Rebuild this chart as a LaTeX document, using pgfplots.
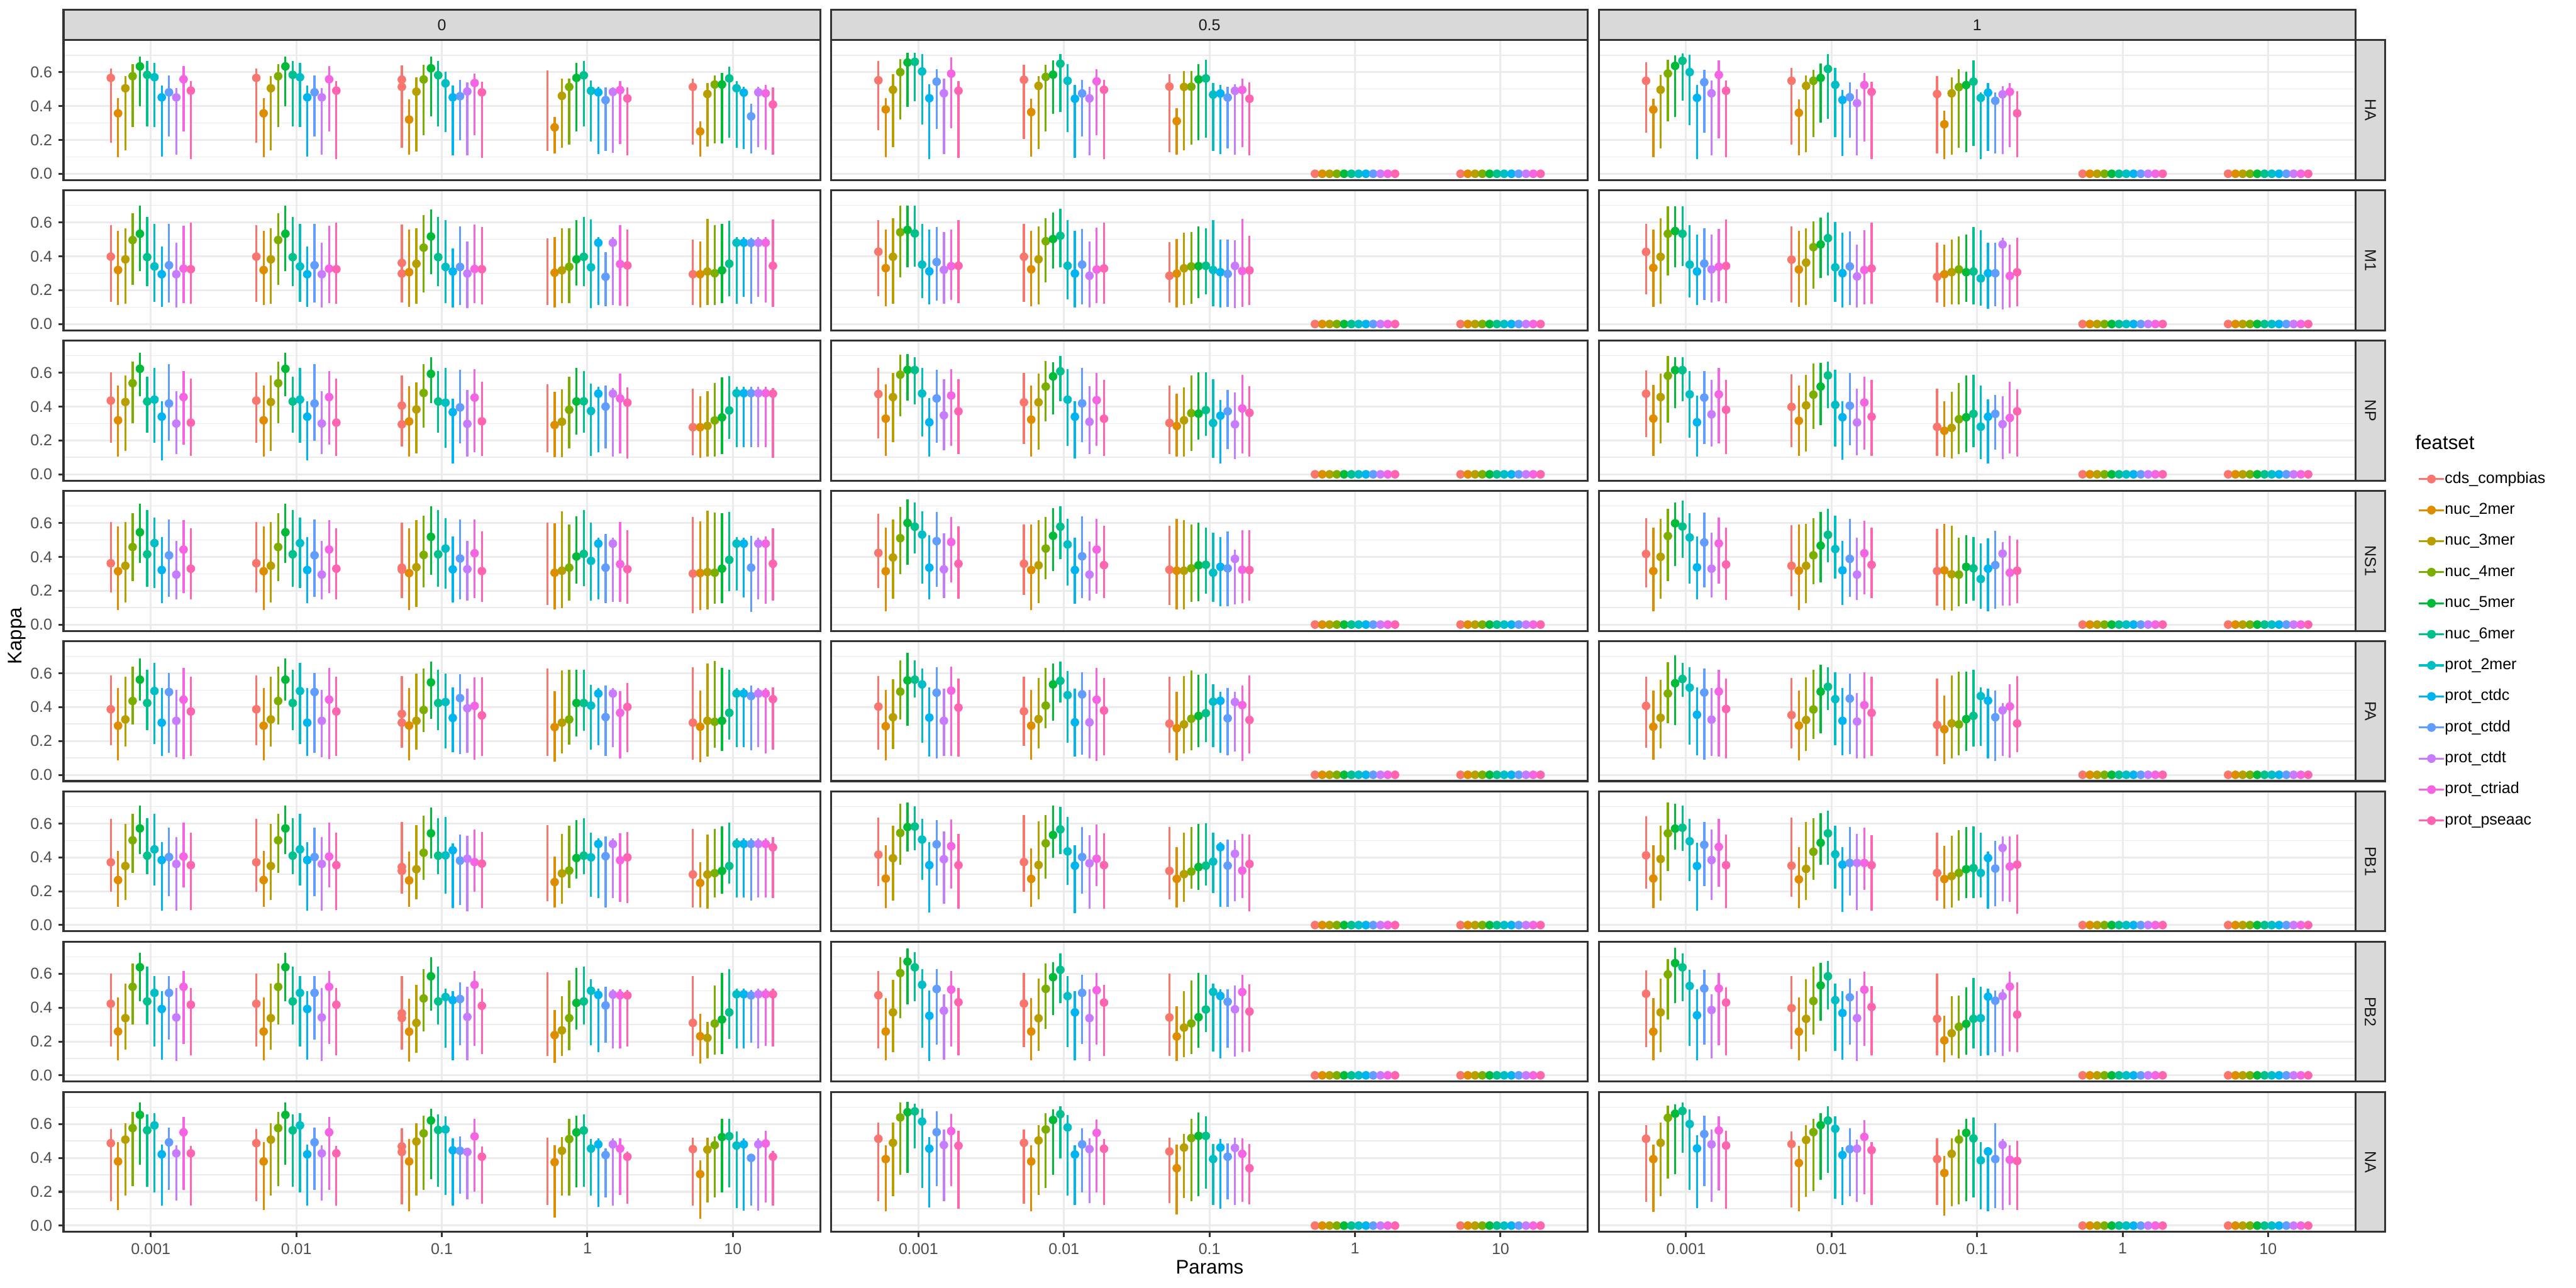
\documentclass[border=0pt]{standalone}
\usepackage{pgfplots}
\usepackage{pgfplotstable}
\pgfplotsset{compat=1.18}
\usepackage{fontspec}
\setmainfont{Liberation Sans}

\definecolor{fs0}{HTML}{F8766D}
\definecolor{fs1}{HTML}{DE8C00}
\definecolor{fs2}{HTML}{B79F00}
\definecolor{fs3}{HTML}{7CAE00}
\definecolor{fs4}{HTML}{00BA38}
\definecolor{fs5}{HTML}{00C08B}
\definecolor{fs6}{HTML}{00BFC4}
\definecolor{fs7}{HTML}{00B4F0}
\definecolor{fs8}{HTML}{619CFF}
\definecolor{fs9}{HTML}{C77CFF}
\definecolor{fs10}{HTML}{F564E3}
\definecolor{fs11}{HTML}{FF64B0}
\definecolor{grey10}{HTML}{1A1A1A}
\definecolor{grey20}{HTML}{333333}
\definecolor{grey30}{HTML}{4D4D4D}
\definecolor{gridgray}{HTML}{EBEBEB}
\definecolor{stripgray}{HTML}{D9D9D9}

% Each line is one point: mean \\ lower \\ upper \\ ; lines are ordered
% group-major (12 featsets per Params group).
\pgfplotstableread[row sep=\\]{v\\
0.566\\ 0.183\\ 0.623\\
0.357\\ 0.099\\ 0.448\\
0.505\\ 0.140\\ 0.575\\
0.576\\ 0.275\\ 0.649\\
0.634\\ 0.398\\ 0.693\\
0.584\\ 0.280\\ 0.667\\
0.570\\ 0.277\\ 0.656\\
0.451\\ 0.102\\ 0.520\\
0.481\\ 0.221\\ 0.580\\
0.451\\ 0.114\\ 0.505\\
0.558\\ 0.250\\ 0.635\\
0.491\\ 0.086\\ 0.547\\
0.566\\ 0.183\\ 0.623\\
0.357\\ 0.099\\ 0.448\\
0.505\\ 0.140\\ 0.575\\
0.576\\ 0.275\\ 0.649\\
0.634\\ 0.398\\ 0.693\\
0.584\\ 0.280\\ 0.667\\
0.570\\ 0.277\\ 0.656\\
0.451\\ 0.102\\ 0.520\\
0.481\\ 0.221\\ 0.580\\
0.451\\ 0.114\\ 0.505\\
0.558\\ 0.250\\ 0.635\\
0.491\\ 0.086\\ 0.547\\
0.556\\ 0.153\\ 0.638\\
0.320\\ 0.112\\ 0.440\\
0.485\\ 0.131\\ 0.571\\
0.557\\ 0.227\\ 0.643\\
0.623\\ 0.339\\ 0.690\\
0.582\\ 0.280\\ 0.666\\
0.534\\ 0.248\\ 0.604\\
0.451\\ 0.107\\ 0.522\\
0.458\\ 0.197\\ 0.553\\
0.486\\ 0.107\\ 0.539\\
0.536\\ 0.226\\ 0.591\\
0.481\\ 0.095\\ 0.542\\
0.513\\ 0.133\\ 0.609\\
0.274\\ 0.120\\ 0.335\\
0.460\\ 0.155\\ 0.560\\
0.513\\ 0.171\\ 0.560\\
0.566\\ 0.249\\ 0.654\\
0.581\\ 0.280\\ 0.666\\
0.490\\ 0.189\\ 0.549\\
0.481\\ 0.115\\ 0.512\\
0.435\\ 0.133\\ 0.509\\
0.483\\ 0.123\\ 0.510\\
0.494\\ 0.174\\ 0.548\\
0.445\\ 0.110\\ 0.510\\
0.513\\ 0.173\\ 0.562\\
0.250\\ 0.101\\ 0.308\\
0.471\\ 0.160\\ 0.537\\
0.527\\ 0.181\\ 0.581\\
0.527\\ 0.179\\ 0.594\\
0.563\\ 0.212\\ 0.633\\
0.505\\ 0.152\\ 0.547\\
0.479\\ 0.147\\ 0.515\\
0.339\\ 0.119\\ 0.412\\
0.481\\ 0.157\\ 0.513\\
0.475\\ 0.143\\ 0.524\\
0.409\\ 0.114\\ 0.510\\
}\tAa
\pgfplotstableread[row sep=\\]{v\\
0.398\\ 0.132\\ 0.584\\
0.319\\ 0.113\\ 0.552\\
0.382\\ 0.121\\ 0.566\\
0.496\\ 0.231\\ 0.656\\
0.533\\ 0.313\\ 0.699\\
0.395\\ 0.224\\ 0.634\\
0.340\\ 0.132\\ 0.590\\
0.294\\ 0.101\\ 0.456\\
0.347\\ 0.126\\ 0.593\\
0.294\\ 0.097\\ 0.480\\
0.327\\ 0.124\\ 0.581\\
0.324\\ 0.120\\ 0.599\\
0.398\\ 0.132\\ 0.584\\
0.319\\ 0.113\\ 0.552\\
0.382\\ 0.121\\ 0.566\\
0.496\\ 0.231\\ 0.656\\
0.533\\ 0.313\\ 0.699\\
0.395\\ 0.224\\ 0.634\\
0.340\\ 0.132\\ 0.590\\
0.294\\ 0.101\\ 0.456\\
0.347\\ 0.126\\ 0.593\\
0.294\\ 0.097\\ 0.480\\
0.327\\ 0.124\\ 0.581\\
0.324\\ 0.120\\ 0.599\\
0.361\\ 0.126\\ 0.586\\
0.306\\ 0.102\\ 0.557\\
0.356\\ 0.119\\ 0.564\\
0.451\\ 0.187\\ 0.644\\
0.517\\ 0.293\\ 0.676\\
0.395\\ 0.224\\ 0.633\\
0.337\\ 0.125\\ 0.614\\
0.310\\ 0.098\\ 0.448\\
0.337\\ 0.113\\ 0.576\\
0.298\\ 0.092\\ 0.488\\
0.325\\ 0.122\\ 0.586\\
0.324\\ 0.116\\ 0.571\\
0.298\\ 0.113\\ 0.507\\
0.303\\ 0.097\\ 0.512\\
0.317\\ 0.124\\ 0.565\\
0.338\\ 0.124\\ 0.565\\
0.382\\ 0.227\\ 0.615\\
0.397\\ 0.224\\ 0.633\\
0.335\\ 0.095\\ 0.618\\
0.480\\ 0.111\\ 0.512\\
0.279\\ 0.103\\ 0.426\\
0.480\\ 0.111\\ 0.512\\
0.354\\ 0.108\\ 0.583\\
0.346\\ 0.105\\ 0.559\\
0.294\\ 0.111\\ 0.499\\
0.294\\ 0.098\\ 0.487\\
0.310\\ 0.113\\ 0.622\\
0.300\\ 0.111\\ 0.584\\
0.317\\ 0.125\\ 0.593\\
0.356\\ 0.164\\ 0.609\\
0.480\\ 0.120\\ 0.515\\
0.480\\ 0.161\\ 0.515\\
0.479\\ 0.121\\ 0.511\\
0.480\\ 0.161\\ 0.515\\
0.480\\ 0.126\\ 0.515\\
0.344\\ 0.101\\ 0.619\\
}\tBa
\pgfplotstableread[row sep=\\]{v\\
0.435\\ 0.187\\ 0.601\\
0.319\\ 0.103\\ 0.523\\
0.427\\ 0.138\\ 0.582\\
0.538\\ 0.301\\ 0.665\\
0.623\\ 0.462\\ 0.716\\
0.430\\ 0.244\\ 0.575\\
0.441\\ 0.188\\ 0.629\\
0.340\\ 0.083\\ 0.430\\
0.418\\ 0.196\\ 0.650\\
0.300\\ 0.120\\ 0.491\\
0.456\\ 0.176\\ 0.610\\
0.305\\ 0.110\\ 0.564\\
0.435\\ 0.187\\ 0.601\\
0.319\\ 0.103\\ 0.523\\
0.427\\ 0.138\\ 0.582\\
0.538\\ 0.301\\ 0.665\\
0.623\\ 0.462\\ 0.716\\
0.430\\ 0.244\\ 0.575\\
0.441\\ 0.188\\ 0.629\\
0.340\\ 0.083\\ 0.430\\
0.418\\ 0.196\\ 0.650\\
0.300\\ 0.120\\ 0.491\\
0.456\\ 0.176\\ 0.610\\
0.305\\ 0.110\\ 0.564\\
0.406\\ 0.165\\ 0.585\\
0.312\\ 0.105\\ 0.521\\
0.383\\ 0.123\\ 0.543\\
0.480\\ 0.277\\ 0.649\\
0.593\\ 0.421\\ 0.690\\
0.430\\ 0.244\\ 0.608\\
0.423\\ 0.155\\ 0.628\\
0.367\\ 0.065\\ 0.446\\
0.395\\ 0.182\\ 0.616\\
0.298\\ 0.106\\ 0.500\\
0.453\\ 0.132\\ 0.619\\
0.313\\ 0.109\\ 0.547\\
0.295\\ 0.130\\ 0.530\\
0.291\\ 0.100\\ 0.487\\
0.310\\ 0.100\\ 0.501\\
0.381\\ 0.154\\ 0.578\\
0.430\\ 0.235\\ 0.628\\
0.431\\ 0.245\\ 0.608\\
0.374\\ 0.110\\ 0.535\\
0.476\\ 0.132\\ 0.515\\
0.400\\ 0.153\\ 0.526\\
0.476\\ 0.104\\ 0.509\\
0.448\\ 0.124\\ 0.593\\
0.423\\ 0.092\\ 0.514\\
0.278\\ 0.112\\ 0.505\\
0.278\\ 0.097\\ 0.460\\
0.286\\ 0.103\\ 0.491\\
0.318\\ 0.105\\ 0.540\\
0.336\\ 0.120\\ 0.574\\
0.377\\ 0.209\\ 0.580\\
0.479\\ 0.160\\ 0.515\\
0.479\\ 0.160\\ 0.515\\
0.479\\ 0.162\\ 0.515\\
0.479\\ 0.160\\ 0.515\\
0.479\\ 0.160\\ 0.515\\
0.476\\ 0.098\\ 0.508\\
}\tCa
\pgfplotstableread[row sep=\\]{v\\
0.362\\ 0.190\\ 0.607\\
0.315\\ 0.085\\ 0.578\\
0.347\\ 0.132\\ 0.607\\
0.458\\ 0.256\\ 0.658\\
0.545\\ 0.365\\ 0.712\\
0.415\\ 0.225\\ 0.675\\
0.481\\ 0.216\\ 0.633\\
0.322\\ 0.128\\ 0.518\\
0.409\\ 0.163\\ 0.619\\
0.295\\ 0.149\\ 0.495\\
0.443\\ 0.186\\ 0.616\\
0.330\\ 0.149\\ 0.569\\
0.362\\ 0.190\\ 0.607\\
0.315\\ 0.085\\ 0.578\\
0.347\\ 0.132\\ 0.607\\
0.458\\ 0.256\\ 0.658\\
0.545\\ 0.365\\ 0.712\\
0.415\\ 0.225\\ 0.675\\
0.481\\ 0.216\\ 0.633\\
0.322\\ 0.128\\ 0.518\\
0.409\\ 0.163\\ 0.619\\
0.295\\ 0.149\\ 0.495\\
0.443\\ 0.186\\ 0.616\\
0.330\\ 0.149\\ 0.569\\
0.336\\ 0.155\\ 0.602\\
0.304\\ 0.085\\ 0.569\\
0.339\\ 0.103\\ 0.615\\
0.411\\ 0.218\\ 0.644\\
0.518\\ 0.292\\ 0.698\\
0.415\\ 0.225\\ 0.675\\
0.449\\ 0.213\\ 0.628\\
0.326\\ 0.132\\ 0.520\\
0.390\\ 0.149\\ 0.621\\
0.327\\ 0.140\\ 0.493\\
0.421\\ 0.158\\ 0.619\\
0.316\\ 0.135\\ 0.551\\
0.324\\ 0.114\\ 0.602\\
0.306\\ 0.091\\ 0.598\\
0.318\\ 0.097\\ 0.668\\
0.336\\ 0.143\\ 0.592\\
0.402\\ 0.240\\ 0.638\\
0.417\\ 0.227\\ 0.675\\
0.376\\ 0.143\\ 0.602\\
0.478\\ 0.148\\ 0.513\\
0.336\\ 0.128\\ 0.534\\
0.478\\ 0.135\\ 0.513\\
0.357\\ 0.135\\ 0.605\\
0.327\\ 0.123\\ 0.559\\
0.301\\ 0.068\\ 0.636\\
0.304\\ 0.085\\ 0.609\\
0.310\\ 0.091\\ 0.673\\
0.306\\ 0.123\\ 0.662\\
0.330\\ 0.126\\ 0.656\\
0.382\\ 0.196\\ 0.665\\
0.478\\ 0.202\\ 0.518\\
0.478\\ 0.161\\ 0.513\\
0.336\\ 0.073\\ 0.524\\
0.478\\ 0.149\\ 0.513\\
0.478\\ 0.123\\ 0.522\\
0.359\\ 0.140\\ 0.569\\
}\tDa
\pgfplotstableread[row sep=\\]{v\\
0.387\\ 0.175\\ 0.587\\
0.290\\ 0.086\\ 0.514\\
0.327\\ 0.168\\ 0.578\\
0.436\\ 0.296\\ 0.638\\
0.562\\ 0.439\\ 0.689\\
0.424\\ 0.263\\ 0.622\\
0.495\\ 0.183\\ 0.662\\
0.308\\ 0.112\\ 0.513\\
0.489\\ 0.129\\ 0.601\\
0.319\\ 0.104\\ 0.501\\
0.444\\ 0.094\\ 0.631\\
0.374\\ 0.112\\ 0.580\\
0.387\\ 0.175\\ 0.587\\
0.290\\ 0.086\\ 0.514\\
0.327\\ 0.168\\ 0.578\\
0.436\\ 0.296\\ 0.638\\
0.562\\ 0.439\\ 0.689\\
0.424\\ 0.263\\ 0.622\\
0.495\\ 0.183\\ 0.662\\
0.308\\ 0.112\\ 0.513\\
0.489\\ 0.129\\ 0.601\\
0.319\\ 0.104\\ 0.501\\
0.444\\ 0.094\\ 0.631\\
0.374\\ 0.112\\ 0.580\\
0.360\\ 0.161\\ 0.584\\
0.291\\ 0.086\\ 0.514\\
0.319\\ 0.150\\ 0.599\\
0.383\\ 0.252\\ 0.626\\
0.546\\ 0.329\\ 0.670\\
0.424\\ 0.263\\ 0.622\\
0.430\\ 0.155\\ 0.598\\
0.336\\ 0.133\\ 0.515\\
0.453\\ 0.124\\ 0.594\\
0.393\\ 0.129\\ 0.508\\
0.407\\ 0.090\\ 0.574\\
0.351\\ 0.112\\ 0.576\\
0.308\\ 0.112\\ 0.626\\
0.282\\ 0.078\\ 0.494\\
0.308\\ 0.127\\ 0.616\\
0.327\\ 0.179\\ 0.620\\
0.424\\ 0.228\\ 0.620\\
0.424\\ 0.261\\ 0.622\\
0.409\\ 0.150\\ 0.532\\
0.480\\ 0.174\\ 0.514\\
0.341\\ 0.112\\ 0.527\\
0.480\\ 0.162\\ 0.514\\
0.366\\ 0.098\\ 0.494\\
0.401\\ 0.133\\ 0.543\\
0.308\\ 0.089\\ 0.637\\
0.284\\ 0.073\\ 0.497\\
0.319\\ 0.106\\ 0.657\\
0.313\\ 0.161\\ 0.671\\
0.319\\ 0.143\\ 0.631\\
0.366\\ 0.209\\ 0.619\\
0.480\\ 0.162\\ 0.514\\
0.480\\ 0.162\\ 0.514\\
0.465\\ 0.144\\ 0.527\\
0.480\\ 0.162\\ 0.514\\
0.480\\ 0.128\\ 0.514\\
0.447\\ 0.150\\ 0.517\\
}\tEa
\pgfplotstableread[row sep=\\]{v\\
0.371\\ 0.198\\ 0.629\\
0.266\\ 0.109\\ 0.439\\
0.349\\ 0.149\\ 0.599\\
0.501\\ 0.308\\ 0.658\\
0.571\\ 0.418\\ 0.707\\
0.410\\ 0.299\\ 0.630\\
0.447\\ 0.233\\ 0.657\\
0.384\\ 0.086\\ 0.491\\
0.402\\ 0.170\\ 0.574\\
0.361\\ 0.086\\ 0.521\\
0.405\\ 0.224\\ 0.607\\
0.354\\ 0.089\\ 0.546\\
0.371\\ 0.198\\ 0.629\\
0.266\\ 0.109\\ 0.439\\
0.349\\ 0.149\\ 0.599\\
0.501\\ 0.308\\ 0.658\\
0.571\\ 0.418\\ 0.707\\
0.410\\ 0.299\\ 0.630\\
0.447\\ 0.233\\ 0.657\\
0.384\\ 0.086\\ 0.491\\
0.402\\ 0.170\\ 0.574\\
0.361\\ 0.086\\ 0.521\\
0.405\\ 0.224\\ 0.607\\
0.354\\ 0.089\\ 0.546\\
0.343\\ 0.186\\ 0.610\\
0.264\\ 0.109\\ 0.435\\
0.330\\ 0.153\\ 0.591\\
0.427\\ 0.268\\ 0.645\\
0.542\\ 0.392\\ 0.693\\
0.410\\ 0.299\\ 0.630\\
0.412\\ 0.184\\ 0.637\\
0.442\\ 0.100\\ 0.483\\
0.381\\ 0.120\\ 0.535\\
0.392\\ 0.081\\ 0.529\\
0.372\\ 0.197\\ 0.564\\
0.363\\ 0.100\\ 0.550\\
0.320\\ 0.140\\ 0.592\\
0.254\\ 0.105\\ 0.404\\
0.305\\ 0.126\\ 0.539\\
0.322\\ 0.219\\ 0.585\\
0.396\\ 0.273\\ 0.620\\
0.410\\ 0.299\\ 0.630\\
0.400\\ 0.167\\ 0.547\\
0.479\\ 0.161\\ 0.511\\
0.407\\ 0.105\\ 0.524\\
0.479\\ 0.158\\ 0.511\\
0.383\\ 0.138\\ 0.542\\
0.400\\ 0.131\\ 0.549\\
0.299\\ 0.104\\ 0.567\\
0.249\\ 0.104\\ 0.372\\
0.299\\ 0.098\\ 0.536\\
0.307\\ 0.163\\ 0.567\\
0.320\\ 0.186\\ 0.582\\
0.349\\ 0.246\\ 0.607\\
0.479\\ 0.162\\ 0.514\\
0.479\\ 0.162\\ 0.514\\
0.479\\ 0.144\\ 0.514\\
0.479\\ 0.162\\ 0.514\\
0.479\\ 0.162\\ 0.514\\
0.459\\ 0.159\\ 0.521\\
}\tFa
\pgfplotstableread[row sep=\\]{v\\
0.423\\ 0.172\\ 0.600\\
0.259\\ 0.087\\ 0.459\\
0.338\\ 0.151\\ 0.541\\
0.523\\ 0.299\\ 0.662\\
0.639\\ 0.439\\ 0.723\\
0.437\\ 0.300\\ 0.641\\
0.487\\ 0.172\\ 0.586\\
0.392\\ 0.093\\ 0.499\\
0.487\\ 0.211\\ 0.586\\
0.342\\ 0.085\\ 0.517\\
0.523\\ 0.185\\ 0.615\\
0.417\\ 0.117\\ 0.517\\
0.423\\ 0.172\\ 0.600\\
0.259\\ 0.087\\ 0.459\\
0.338\\ 0.151\\ 0.541\\
0.523\\ 0.299\\ 0.662\\
0.639\\ 0.439\\ 0.723\\
0.437\\ 0.300\\ 0.641\\
0.487\\ 0.172\\ 0.586\\
0.392\\ 0.093\\ 0.499\\
0.487\\ 0.211\\ 0.586\\
0.342\\ 0.085\\ 0.517\\
0.523\\ 0.185\\ 0.615\\
0.417\\ 0.117\\ 0.517\\
0.366\\ 0.151\\ 0.586\\
0.258\\ 0.080\\ 0.451\\
0.310\\ 0.134\\ 0.534\\
0.454\\ 0.258\\ 0.628\\
0.585\\ 0.382\\ 0.697\\
0.437\\ 0.300\\ 0.641\\
0.463\\ 0.163\\ 0.513\\
0.444\\ 0.089\\ 0.496\\
0.451\\ 0.177\\ 0.551\\
0.345\\ 0.089\\ 0.523\\
0.535\\ 0.173\\ 0.615\\
0.411\\ 0.127\\ 0.513\\
0.339\\ 0.113\\ 0.607\\
0.238\\ 0.075\\ 0.387\\
0.266\\ 0.113\\ 0.466\\
0.338\\ 0.148\\ 0.562\\
0.428\\ 0.270\\ 0.635\\
0.437\\ 0.300\\ 0.641\\
0.500\\ 0.177\\ 0.568\\
0.475\\ 0.137\\ 0.511\\
0.413\\ 0.193\\ 0.523\\
0.477\\ 0.158\\ 0.510\\
0.473\\ 0.158\\ 0.510\\
0.472\\ 0.170\\ 0.506\\
0.310\\ 0.113\\ 0.585\\
0.231\\ 0.069\\ 0.362\\
0.221\\ 0.099\\ 0.317\\
0.306\\ 0.123\\ 0.530\\
0.330\\ 0.127\\ 0.604\\
0.372\\ 0.215\\ 0.627\\
0.479\\ 0.161\\ 0.513\\
0.479\\ 0.161\\ 0.513\\
0.472\\ 0.193\\ 0.506\\
0.479\\ 0.161\\ 0.513\\
0.479\\ 0.175\\ 0.513\\
0.479\\ 0.172\\ 0.513\\
}\tGa
\pgfplotstableread[row sep=\\]{v\\
0.487\\ 0.146\\ 0.570\\
0.379\\ 0.092\\ 0.492\\
0.508\\ 0.176\\ 0.604\\
0.576\\ 0.235\\ 0.672\\
0.654\\ 0.358\\ 0.727\\
0.563\\ 0.231\\ 0.656\\
0.592\\ 0.196\\ 0.666\\
0.421\\ 0.117\\ 0.479\\
0.492\\ 0.210\\ 0.580\\
0.427\\ 0.149\\ 0.473\\
0.551\\ 0.210\\ 0.642\\
0.427\\ 0.120\\ 0.472\\
0.487\\ 0.146\\ 0.570\\
0.379\\ 0.092\\ 0.492\\
0.508\\ 0.176\\ 0.604\\
0.576\\ 0.235\\ 0.672\\
0.654\\ 0.358\\ 0.727\\
0.563\\ 0.231\\ 0.656\\
0.592\\ 0.196\\ 0.666\\
0.421\\ 0.117\\ 0.479\\
0.492\\ 0.210\\ 0.580\\
0.427\\ 0.149\\ 0.473\\
0.551\\ 0.210\\ 0.642\\
0.427\\ 0.120\\ 0.472\\
0.468\\ 0.125\\ 0.576\\
0.379\\ 0.083\\ 0.511\\
0.497\\ 0.179\\ 0.606\\
0.545\\ 0.210\\ 0.648\\
0.621\\ 0.276\\ 0.689\\
0.565\\ 0.231\\ 0.656\\
0.568\\ 0.182\\ 0.646\\
0.445\\ 0.117\\ 0.517\\
0.442\\ 0.187\\ 0.525\\
0.435\\ 0.154\\ 0.456\\
0.527\\ 0.199\\ 0.630\\
0.407\\ 0.130\\ 0.468\\
0.435\\ 0.123\\ 0.520\\
0.375\\ 0.048\\ 0.476\\
0.442\\ 0.179\\ 0.523\\
0.511\\ 0.179\\ 0.630\\
0.551\\ 0.227\\ 0.649\\
0.562\\ 0.231\\ 0.656\\
0.455\\ 0.177\\ 0.511\\
0.480\\ 0.111\\ 0.515\\
0.417\\ 0.168\\ 0.456\\
0.480\\ 0.117\\ 0.515\\
0.455\\ 0.182\\ 0.515\\
0.407\\ 0.130\\ 0.438\\
0.452\\ 0.120\\ 0.518\\
0.304\\ 0.042\\ 0.387\\
0.449\\ 0.137\\ 0.520\\
0.475\\ 0.168\\ 0.527\\
0.523\\ 0.196\\ 0.630\\
0.528\\ 0.227\\ 0.630\\
0.473\\ 0.103\\ 0.556\\
0.480\\ 0.090\\ 0.515\\
0.400\\ 0.120\\ 0.421\\
0.480\\ 0.087\\ 0.515\\
0.485\\ 0.135\\ 0.562\\
0.407\\ 0.117\\ 0.442\\
}\tHa
\pgfplotstableread[row sep=\\]{v\\
0.552\\ 0.259\\ 0.667\\
0.380\\ 0.099\\ 0.445\\
0.496\\ 0.157\\ 0.589\\
0.600\\ 0.322\\ 0.678\\
0.657\\ 0.395\\ 0.714\\
0.661\\ 0.428\\ 0.714\\
0.604\\ 0.292\\ 0.705\\
0.446\\ 0.086\\ 0.528\\
0.544\\ 0.264\\ 0.616\\
0.475\\ 0.117\\ 0.561\\
0.591\\ 0.269\\ 0.688\\
0.490\\ 0.095\\ 0.547\\
0.555\\ 0.206\\ 0.642\\
0.364\\ 0.101\\ 0.442\\
0.519\\ 0.147\\ 0.576\\
0.572\\ 0.250\\ 0.645\\
0.585\\ 0.355\\ 0.668\\
0.650\\ 0.365\\ 0.705\\
0.549\\ 0.248\\ 0.648\\
0.443\\ 0.093\\ 0.524\\
0.474\\ 0.222\\ 0.556\\
0.445\\ 0.107\\ 0.512\\
0.546\\ 0.226\\ 0.618\\
0.496\\ 0.086\\ 0.553\\
0.515\\ 0.126\\ 0.589\\
0.311\\ 0.114\\ 0.389\\
0.513\\ 0.140\\ 0.605\\
0.514\\ 0.171\\ 0.606\\
0.557\\ 0.197\\ 0.649\\
0.563\\ 0.211\\ 0.673\\
0.467\\ 0.136\\ 0.534\\
0.474\\ 0.117\\ 0.525\\
0.450\\ 0.148\\ 0.513\\
0.490\\ 0.112\\ 0.529\\
0.495\\ 0.157\\ 0.562\\
0.443\\ 0.107\\ 0.541\\
}\tAb
\pgfplotstableread[row sep=\\]{v\\
0.427\\ 0.166\\ 0.612\\
0.330\\ 0.105\\ 0.559\\
0.397\\ 0.121\\ 0.625\\
0.542\\ 0.275\\ 0.699\\
0.556\\ 0.335\\ 0.699\\
0.535\\ 0.340\\ 0.699\\
0.351\\ 0.154\\ 0.591\\
0.311\\ 0.115\\ 0.559\\
0.366\\ 0.140\\ 0.571\\
0.320\\ 0.121\\ 0.542\\
0.342\\ 0.142\\ 0.559\\
0.344\\ 0.124\\ 0.612\\
0.397\\ 0.130\\ 0.593\\
0.323\\ 0.105\\ 0.550\\
0.382\\ 0.115\\ 0.575\\
0.489\\ 0.246\\ 0.625\\
0.502\\ 0.329\\ 0.657\\
0.521\\ 0.335\\ 0.682\\
0.344\\ 0.145\\ 0.613\\
0.298\\ 0.096\\ 0.550\\
0.351\\ 0.117\\ 0.562\\
0.285\\ 0.098\\ 0.486\\
0.322\\ 0.124\\ 0.569\\
0.328\\ 0.120\\ 0.600\\
0.285\\ 0.127\\ 0.483\\
0.298\\ 0.097\\ 0.502\\
0.329\\ 0.111\\ 0.540\\
0.340\\ 0.121\\ 0.542\\
0.342\\ 0.153\\ 0.575\\
0.344\\ 0.174\\ 0.565\\
0.319\\ 0.106\\ 0.613\\
0.306\\ 0.098\\ 0.499\\
0.296\\ 0.101\\ 0.499\\
0.343\\ 0.095\\ 0.496\\
0.313\\ 0.102\\ 0.622\\
0.317\\ 0.111\\ 0.521\\
}\tBb
\pgfplotstableread[row sep=\\]{v\\
0.474\\ 0.214\\ 0.629\\
0.329\\ 0.110\\ 0.530\\
0.456\\ 0.190\\ 0.599\\
0.588\\ 0.342\\ 0.705\\
0.617\\ 0.435\\ 0.710\\
0.616\\ 0.413\\ 0.692\\
0.477\\ 0.223\\ 0.628\\
0.307\\ 0.106\\ 0.451\\
0.448\\ 0.188\\ 0.616\\
0.348\\ 0.141\\ 0.561\\
0.465\\ 0.167\\ 0.620\\
0.372\\ 0.118\\ 0.561\\
0.425\\ 0.180\\ 0.599\\
0.323\\ 0.106\\ 0.526\\
0.425\\ 0.145\\ 0.595\\
0.518\\ 0.313\\ 0.669\\
0.578\\ 0.355\\ 0.661\\
0.608\\ 0.430\\ 0.698\\
0.441\\ 0.169\\ 0.620\\
0.340\\ 0.092\\ 0.430\\
0.419\\ 0.190\\ 0.628\\
0.310\\ 0.118\\ 0.521\\
0.438\\ 0.167\\ 0.599\\
0.328\\ 0.110\\ 0.559\\
0.303\\ 0.118\\ 0.523\\
0.285\\ 0.104\\ 0.477\\
0.319\\ 0.103\\ 0.512\\
0.361\\ 0.138\\ 0.585\\
0.358\\ 0.203\\ 0.601\\
0.379\\ 0.226\\ 0.602\\
0.303\\ 0.098\\ 0.561\\
0.346\\ 0.062\\ 0.438\\
0.372\\ 0.149\\ 0.500\\
0.295\\ 0.091\\ 0.482\\
0.389\\ 0.124\\ 0.587\\
0.363\\ 0.104\\ 0.519\\
}\tCb
\pgfplotstableread[row sep=\\]{v\\
0.423\\ 0.217\\ 0.654\\
0.315\\ 0.077\\ 0.572\\
0.396\\ 0.151\\ 0.621\\
0.510\\ 0.297\\ 0.694\\
0.600\\ 0.353\\ 0.738\\
0.578\\ 0.419\\ 0.719\\
0.531\\ 0.242\\ 0.668\\
0.336\\ 0.149\\ 0.528\\
0.493\\ 0.225\\ 0.665\\
0.326\\ 0.157\\ 0.539\\
0.487\\ 0.248\\ 0.637\\
0.359\\ 0.151\\ 0.580\\
0.359\\ 0.176\\ 0.592\\
0.322\\ 0.085\\ 0.592\\
0.350\\ 0.128\\ 0.615\\
0.449\\ 0.266\\ 0.636\\
0.524\\ 0.315\\ 0.687\\
0.578\\ 0.388\\ 0.697\\
0.473\\ 0.231\\ 0.624\\
0.322\\ 0.123\\ 0.513\\
0.403\\ 0.157\\ 0.638\\
0.295\\ 0.141\\ 0.491\\
0.443\\ 0.182\\ 0.624\\
0.351\\ 0.155\\ 0.584\\
0.324\\ 0.114\\ 0.583\\
0.318\\ 0.089\\ 0.623\\
0.318\\ 0.089\\ 0.615\\
0.332\\ 0.135\\ 0.592\\
0.350\\ 0.137\\ 0.601\\
0.353\\ 0.182\\ 0.574\\
0.306\\ 0.135\\ 0.543\\
0.341\\ 0.108\\ 0.516\\
0.332\\ 0.108\\ 0.551\\
0.388\\ 0.120\\ 0.444\\
0.324\\ 0.126\\ 0.559\\
0.322\\ 0.141\\ 0.557\\
}\tDb
\pgfplotstableread[row sep=\\]{v\\
0.403\\ 0.150\\ 0.585\\
0.287\\ 0.086\\ 0.502\\
0.340\\ 0.153\\ 0.565\\
0.491\\ 0.327\\ 0.675\\
0.558\\ 0.288\\ 0.720\\
0.562\\ 0.457\\ 0.677\\
0.534\\ 0.191\\ 0.629\\
0.338\\ 0.106\\ 0.517\\
0.485\\ 0.098\\ 0.637\\
0.319\\ 0.110\\ 0.508\\
0.497\\ 0.112\\ 0.640\\
0.397\\ 0.106\\ 0.569\\
0.375\\ 0.171\\ 0.580\\
0.290\\ 0.089\\ 0.500\\
0.329\\ 0.156\\ 0.572\\
0.409\\ 0.276\\ 0.631\\
0.534\\ 0.319\\ 0.657\\
0.555\\ 0.428\\ 0.670\\
0.471\\ 0.188\\ 0.612\\
0.310\\ 0.107\\ 0.509\\
0.475\\ 0.119\\ 0.606\\
0.310\\ 0.098\\ 0.502\\
0.444\\ 0.080\\ 0.630\\
0.380\\ 0.115\\ 0.572\\
0.302\\ 0.130\\ 0.578\\
0.275\\ 0.086\\ 0.491\\
0.298\\ 0.125\\ 0.585\\
0.331\\ 0.146\\ 0.616\\
0.348\\ 0.165\\ 0.590\\
0.364\\ 0.195\\ 0.599\\
0.432\\ 0.164\\ 0.535\\
0.437\\ 0.130\\ 0.492\\
0.334\\ 0.115\\ 0.514\\
0.430\\ 0.136\\ 0.491\\
0.412\\ 0.080\\ 0.529\\
0.324\\ 0.125\\ 0.587\\
}\tEb
\pgfplotstableread[row sep=\\]{v\\
0.416\\ 0.229\\ 0.635\\
0.275\\ 0.100\\ 0.472\\
0.395\\ 0.145\\ 0.587\\
0.544\\ 0.357\\ 0.717\\
0.579\\ 0.435\\ 0.725\\
0.582\\ 0.441\\ 0.702\\
0.505\\ 0.268\\ 0.629\\
0.354\\ 0.075\\ 0.489\\
0.477\\ 0.233\\ 0.620\\
0.389\\ 0.126\\ 0.553\\
0.466\\ 0.217\\ 0.623\\
0.354\\ 0.097\\ 0.540\\
0.372\\ 0.196\\ 0.649\\
0.273\\ 0.106\\ 0.453\\
0.355\\ 0.153\\ 0.614\\
0.483\\ 0.275\\ 0.649\\
0.532\\ 0.398\\ 0.707\\
0.565\\ 0.418\\ 0.698\\
0.435\\ 0.237\\ 0.637\\
0.351\\ 0.071\\ 0.470\\
0.402\\ 0.184\\ 0.579\\
0.365\\ 0.095\\ 0.532\\
0.392\\ 0.231\\ 0.594\\
0.354\\ 0.095\\ 0.543\\
0.320\\ 0.151\\ 0.579\\
0.273\\ 0.103\\ 0.462\\
0.301\\ 0.139\\ 0.544\\
0.316\\ 0.215\\ 0.579\\
0.343\\ 0.209\\ 0.596\\
0.351\\ 0.235\\ 0.602\\
0.375\\ 0.188\\ 0.544\\
0.460\\ 0.109\\ 0.491\\
0.351\\ 0.109\\ 0.505\\
0.421\\ 0.140\\ 0.503\\
0.322\\ 0.159\\ 0.538\\
0.361\\ 0.083\\ 0.536\\
}\tFb
\pgfplotstableread[row sep=\\]{v\\
0.473\\ 0.161\\ 0.615\\
0.259\\ 0.090\\ 0.458\\
0.372\\ 0.137\\ 0.565\\
0.604\\ 0.337\\ 0.697\\
0.672\\ 0.418\\ 0.749\\
0.638\\ 0.437\\ 0.728\\
0.535\\ 0.162\\ 0.627\\
0.352\\ 0.086\\ 0.500\\
0.510\\ 0.183\\ 0.627\\
0.382\\ 0.093\\ 0.480\\
0.507\\ 0.169\\ 0.615\\
0.432\\ 0.120\\ 0.517\\
0.424\\ 0.168\\ 0.604\\
0.259\\ 0.087\\ 0.456\\
0.337\\ 0.145\\ 0.570\\
0.511\\ 0.275\\ 0.661\\
0.580\\ 0.355\\ 0.669\\
0.623\\ 0.425\\ 0.720\\
0.468\\ 0.165\\ 0.586\\
0.372\\ 0.087\\ 0.496\\
0.487\\ 0.186\\ 0.593\\
0.338\\ 0.086\\ 0.507\\
0.503\\ 0.183\\ 0.606\\
0.430\\ 0.115\\ 0.535\\
0.342\\ 0.113\\ 0.600\\
0.230\\ 0.085\\ 0.408\\
0.282\\ 0.107\\ 0.499\\
0.307\\ 0.125\\ 0.562\\
0.344\\ 0.162\\ 0.606\\
0.389\\ 0.255\\ 0.594\\
0.493\\ 0.139\\ 0.541\\
0.469\\ 0.099\\ 0.510\\
0.435\\ 0.163\\ 0.507\\
0.390\\ 0.111\\ 0.531\\
0.492\\ 0.137\\ 0.594\\
0.377\\ 0.139\\ 0.538\\
}\tGb
\pgfplotstableread[row sep=\\]{v\\
0.513\\ 0.145\\ 0.608\\
0.393\\ 0.083\\ 0.475\\
0.489\\ 0.173\\ 0.607\\
0.639\\ 0.301\\ 0.727\\
0.670\\ 0.311\\ 0.731\\
0.675\\ 0.456\\ 0.720\\
0.615\\ 0.224\\ 0.689\\
0.455\\ 0.107\\ 0.523\\
0.552\\ 0.232\\ 0.675\\
0.476\\ 0.146\\ 0.569\\
0.558\\ 0.234\\ 0.661\\
0.472\\ 0.101\\ 0.562\\
0.489\\ 0.128\\ 0.569\\
0.379\\ 0.083\\ 0.473\\
0.503\\ 0.180\\ 0.594\\
0.568\\ 0.221\\ 0.663\\
0.624\\ 0.301\\ 0.686\\
0.658\\ 0.396\\ 0.706\\
0.580\\ 0.177\\ 0.654\\
0.420\\ 0.123\\ 0.475\\
0.480\\ 0.196\\ 0.576\\
0.452\\ 0.132\\ 0.515\\
0.548\\ 0.196\\ 0.628\\
0.454\\ 0.121\\ 0.513\\
0.438\\ 0.132\\ 0.520\\
0.339\\ 0.065\\ 0.477\\
0.461\\ 0.163\\ 0.541\\
0.517\\ 0.146\\ 0.630\\
0.530\\ 0.175\\ 0.668\\
0.530\\ 0.217\\ 0.646\\
0.393\\ 0.123\\ 0.483\\
0.461\\ 0.101\\ 0.511\\
0.407\\ 0.154\\ 0.485\\
0.459\\ 0.123\\ 0.520\\
0.424\\ 0.142\\ 0.517\\
0.339\\ 0.125\\ 0.482\\
}\tHb
\pgfplotstableread[row sep=\\]{v\\
0.549\\ 0.243\\ 0.659\\
0.379\\ 0.097\\ 0.442\\
0.496\\ 0.149\\ 0.585\\
0.592\\ 0.309\\ 0.673\\
0.637\\ 0.337\\ 0.701\\
0.667\\ 0.433\\ 0.711\\
0.600\\ 0.288\\ 0.704\\
0.448\\ 0.088\\ 0.525\\
0.541\\ 0.241\\ 0.613\\
0.475\\ 0.107\\ 0.551\\
0.584\\ 0.208\\ 0.669\\
0.490\\ 0.099\\ 0.552\\
0.549\\ 0.171\\ 0.626\\
0.360\\ 0.107\\ 0.440\\
0.519\\ 0.129\\ 0.581\\
0.549\\ 0.216\\ 0.615\\
0.566\\ 0.303\\ 0.652\\
0.619\\ 0.326\\ 0.705\\
0.525\\ 0.215\\ 0.626\\
0.436\\ 0.106\\ 0.495\\
0.452\\ 0.211\\ 0.538\\
0.417\\ 0.109\\ 0.499\\
0.524\\ 0.189\\ 0.595\\
0.484\\ 0.088\\ 0.543\\
0.471\\ 0.120\\ 0.575\\
0.292\\ 0.085\\ 0.374\\
0.475\\ 0.111\\ 0.570\\
0.512\\ 0.153\\ 0.619\\
0.524\\ 0.128\\ 0.604\\
0.544\\ 0.164\\ 0.671\\
0.448\\ 0.085\\ 0.481\\
0.479\\ 0.133\\ 0.534\\
0.431\\ 0.120\\ 0.480\\
0.469\\ 0.117\\ 0.519\\
0.484\\ 0.158\\ 0.537\\
0.357\\ 0.099\\ 0.486\\
}\tAc
\pgfplotstableread[row sep=\\]{v\\
0.426\\ 0.174\\ 0.593\\
0.332\\ 0.102\\ 0.559\\
0.397\\ 0.120\\ 0.625\\
0.533\\ 0.288\\ 0.694\\
0.549\\ 0.335\\ 0.694\\
0.533\\ 0.344\\ 0.694\\
0.351\\ 0.158\\ 0.584\\
0.310\\ 0.111\\ 0.530\\
0.357\\ 0.142\\ 0.567\\
0.323\\ 0.126\\ 0.530\\
0.338\\ 0.136\\ 0.562\\
0.343\\ 0.124\\ 0.618\\
0.380\\ 0.127\\ 0.578\\
0.322\\ 0.102\\ 0.549\\
0.363\\ 0.111\\ 0.567\\
0.454\\ 0.208\\ 0.605\\
0.470\\ 0.271\\ 0.628\\
0.507\\ 0.288\\ 0.657\\
0.335\\ 0.130\\ 0.603\\
0.300\\ 0.098\\ 0.540\\
0.340\\ 0.111\\ 0.546\\
0.281\\ 0.098\\ 0.467\\
0.319\\ 0.115\\ 0.556\\
0.328\\ 0.121\\ 0.600\\
0.279\\ 0.126\\ 0.480\\
0.294\\ 0.102\\ 0.468\\
0.306\\ 0.117\\ 0.498\\
0.322\\ 0.115\\ 0.517\\
0.306\\ 0.130\\ 0.527\\
0.310\\ 0.115\\ 0.574\\
0.269\\ 0.107\\ 0.556\\
0.300\\ 0.090\\ 0.480\\
0.300\\ 0.105\\ 0.480\\
0.470\\ 0.086\\ 0.508\\
0.284\\ 0.096\\ 0.470\\
0.306\\ 0.105\\ 0.511\\
}\tBc
\pgfplotstableread[row sep=\\]{v\\
0.476\\ 0.221\\ 0.612\\
0.329\\ 0.109\\ 0.529\\
0.456\\ 0.184\\ 0.595\\
0.582\\ 0.305\\ 0.699\\
0.615\\ 0.389\\ 0.693\\
0.615\\ 0.430\\ 0.690\\
0.472\\ 0.215\\ 0.608\\
0.307\\ 0.106\\ 0.465\\
0.453\\ 0.180\\ 0.610\\
0.354\\ 0.165\\ 0.556\\
0.472\\ 0.184\\ 0.630\\
0.381\\ 0.118\\ 0.559\\
0.398\\ 0.159\\ 0.592\\
0.316\\ 0.110\\ 0.523\\
0.407\\ 0.135\\ 0.587\\
0.470\\ 0.267\\ 0.655\\
0.518\\ 0.290\\ 0.657\\
0.584\\ 0.390\\ 0.665\\
0.410\\ 0.163\\ 0.617\\
0.337\\ 0.086\\ 0.433\\
0.405\\ 0.173\\ 0.599\\
0.306\\ 0.112\\ 0.507\\
0.424\\ 0.147\\ 0.575\\
0.340\\ 0.110\\ 0.556\\
0.280\\ 0.110\\ 0.505\\
0.257\\ 0.100\\ 0.430\\
0.274\\ 0.095\\ 0.486\\
0.325\\ 0.118\\ 0.540\\
0.337\\ 0.132\\ 0.585\\
0.357\\ 0.161\\ 0.587\\
0.281\\ 0.091\\ 0.523\\
0.340\\ 0.063\\ 0.441\\
0.357\\ 0.145\\ 0.470\\
0.296\\ 0.088\\ 0.462\\
0.333\\ 0.124\\ 0.545\\
0.372\\ 0.103\\ 0.503\\
}\tCc
\pgfplotstableread[row sep=\\]{v\\
0.417\\ 0.221\\ 0.627\\
0.316\\ 0.077\\ 0.572\\
0.400\\ 0.151\\ 0.623\\
0.523\\ 0.256\\ 0.682\\
0.598\\ 0.344\\ 0.722\\
0.579\\ 0.394\\ 0.733\\
0.514\\ 0.242\\ 0.656\\
0.338\\ 0.149\\ 0.522\\
0.485\\ 0.221\\ 0.662\\
0.330\\ 0.161\\ 0.542\\
0.479\\ 0.242\\ 0.633\\
0.355\\ 0.147\\ 0.574\\
0.347\\ 0.169\\ 0.586\\
0.318\\ 0.087\\ 0.592\\
0.347\\ 0.126\\ 0.595\\
0.409\\ 0.237\\ 0.627\\
0.466\\ 0.248\\ 0.665\\
0.530\\ 0.367\\ 0.682\\
0.446\\ 0.272\\ 0.642\\
0.320\\ 0.117\\ 0.496\\
0.388\\ 0.163\\ 0.623\\
0.295\\ 0.147\\ 0.513\\
0.421\\ 0.178\\ 0.612\\
0.353\\ 0.155\\ 0.572\\
0.316\\ 0.111\\ 0.563\\
0.320\\ 0.085\\ 0.594\\
0.297\\ 0.083\\ 0.584\\
0.295\\ 0.108\\ 0.514\\
0.341\\ 0.122\\ 0.528\\
0.332\\ 0.140\\ 0.518\\
0.269\\ 0.093\\ 0.481\\
0.330\\ 0.079\\ 0.508\\
0.351\\ 0.094\\ 0.555\\
0.419\\ 0.111\\ 0.486\\
0.306\\ 0.111\\ 0.525\\
0.318\\ 0.126\\ 0.501\\
}\tDc
\pgfplotstableread[row sep=\\]{v\\
0.407\\ 0.160\\ 0.578\\
0.284\\ 0.090\\ 0.497\\
0.337\\ 0.156\\ 0.560\\
0.480\\ 0.303\\ 0.666\\
0.541\\ 0.294\\ 0.704\\
0.566\\ 0.461\\ 0.661\\
0.515\\ 0.179\\ 0.637\\
0.355\\ 0.114\\ 0.517\\
0.486\\ 0.090\\ 0.628\\
0.326\\ 0.113\\ 0.514\\
0.492\\ 0.106\\ 0.621\\
0.389\\ 0.098\\ 0.570\\
0.353\\ 0.156\\ 0.571\\
0.291\\ 0.084\\ 0.496\\
0.324\\ 0.143\\ 0.576\\
0.386\\ 0.210\\ 0.620\\
0.491\\ 0.246\\ 0.649\\
0.520\\ 0.384\\ 0.634\\
0.447\\ 0.174\\ 0.606\\
0.319\\ 0.115\\ 0.514\\
0.450\\ 0.121\\ 0.599\\
0.315\\ 0.098\\ 0.482\\
0.412\\ 0.098\\ 0.604\\
0.366\\ 0.113\\ 0.578\\
0.295\\ 0.113\\ 0.567\\
0.269\\ 0.065\\ 0.467\\
0.304\\ 0.096\\ 0.587\\
0.298\\ 0.114\\ 0.609\\
0.329\\ 0.141\\ 0.609\\
0.348\\ 0.168\\ 0.621\\
0.465\\ 0.171\\ 0.517\\
0.438\\ 0.098\\ 0.508\\
0.340\\ 0.080\\ 0.497\\
0.381\\ 0.113\\ 0.423\\
0.404\\ 0.101\\ 0.534\\
0.303\\ 0.135\\ 0.585\\
}\tEc
\pgfplotstableread[row sep=\\]{v\\
0.412\\ 0.217\\ 0.643\\
0.275\\ 0.099\\ 0.470\\
0.390\\ 0.145\\ 0.587\\
0.542\\ 0.319\\ 0.725\\
0.570\\ 0.445\\ 0.717\\
0.575\\ 0.439\\ 0.704\\
0.495\\ 0.260\\ 0.628\\
0.349\\ 0.086\\ 0.486\\
0.474\\ 0.229\\ 0.608\\
0.384\\ 0.147\\ 0.564\\
0.462\\ 0.225\\ 0.628\\
0.354\\ 0.099\\ 0.535\\
0.351\\ 0.167\\ 0.635\\
0.270\\ 0.099\\ 0.462\\
0.332\\ 0.147\\ 0.610\\
0.433\\ 0.267\\ 0.632\\
0.486\\ 0.355\\ 0.661\\
0.542\\ 0.357\\ 0.675\\
0.418\\ 0.217\\ 0.588\\
0.357\\ 0.079\\ 0.459\\
0.367\\ 0.174\\ 0.579\\
0.367\\ 0.089\\ 0.538\\
0.367\\ 0.208\\ 0.575\\
0.354\\ 0.086\\ 0.532\\
0.308\\ 0.144\\ 0.547\\
0.272\\ 0.095\\ 0.468\\
0.289\\ 0.104\\ 0.526\\
0.308\\ 0.145\\ 0.561\\
0.330\\ 0.159\\ 0.579\\
0.337\\ 0.161\\ 0.582\\
0.308\\ 0.165\\ 0.546\\
0.396\\ 0.098\\ 0.435\\
0.334\\ 0.110\\ 0.497\\
0.456\\ 0.141\\ 0.523\\
0.346\\ 0.138\\ 0.523\\
0.357\\ 0.068\\ 0.536\\
}\tFc
\pgfplotstableread[row sep=\\]{v\\
0.482\\ 0.165\\ 0.621\\
0.258\\ 0.089\\ 0.456\\
0.372\\ 0.137\\ 0.573\\
0.596\\ 0.331\\ 0.686\\
0.663\\ 0.425\\ 0.752\\
0.638\\ 0.437\\ 0.721\\
0.528\\ 0.175\\ 0.624\\
0.355\\ 0.090\\ 0.510\\
0.513\\ 0.183\\ 0.623\\
0.386\\ 0.099\\ 0.480\\
0.513\\ 0.179\\ 0.604\\
0.430\\ 0.120\\ 0.521\\
0.397\\ 0.154\\ 0.586\\
0.258\\ 0.087\\ 0.461\\
0.334\\ 0.139\\ 0.566\\
0.439\\ 0.242\\ 0.641\\
0.531\\ 0.324\\ 0.663\\
0.585\\ 0.390\\ 0.675\\
0.444\\ 0.144\\ 0.541\\
0.368\\ 0.094\\ 0.499\\
0.461\\ 0.182\\ 0.573\\
0.338\\ 0.085\\ 0.499\\
0.506\\ 0.175\\ 0.611\\
0.404\\ 0.118\\ 0.528\\
0.334\\ 0.120\\ 0.600\\
0.207\\ 0.077\\ 0.354\\
0.249\\ 0.118\\ 0.468\\
0.287\\ 0.100\\ 0.472\\
0.304\\ 0.123\\ 0.521\\
0.334\\ 0.161\\ 0.576\\
0.338\\ 0.113\\ 0.524\\
0.465\\ 0.118\\ 0.514\\
0.441\\ 0.137\\ 0.500\\
0.468\\ 0.115\\ 0.510\\
0.524\\ 0.139\\ 0.611\\
0.359\\ 0.137\\ 0.548\\
}\tGc
\pgfplotstableread[row sep=\\]{v\\
0.513\\ 0.139\\ 0.593\\
0.393\\ 0.080\\ 0.477\\
0.489\\ 0.173\\ 0.607\\
0.637\\ 0.277\\ 0.710\\
0.661\\ 0.304\\ 0.717\\
0.677\\ 0.431\\ 0.727\\
0.600\\ 0.210\\ 0.686\\
0.456\\ 0.104\\ 0.534\\
0.541\\ 0.235\\ 0.651\\
0.480\\ 0.142\\ 0.569\\
0.562\\ 0.207\\ 0.644\\
0.473\\ 0.101\\ 0.562\\
0.482\\ 0.108\\ 0.555\\
0.370\\ 0.083\\ 0.470\\
0.506\\ 0.170\\ 0.593\\
0.552\\ 0.203\\ 0.632\\
0.593\\ 0.269\\ 0.663\\
0.621\\ 0.311\\ 0.706\\
0.572\\ 0.158\\ 0.644\\
0.417\\ 0.123\\ 0.463\\
0.452\\ 0.175\\ 0.576\\
0.454\\ 0.139\\ 0.508\\
0.524\\ 0.185\\ 0.625\\
0.446\\ 0.123\\ 0.492\\
0.393\\ 0.121\\ 0.517\\
0.311\\ 0.058\\ 0.410\\
0.424\\ 0.114\\ 0.517\\
0.508\\ 0.125\\ 0.569\\
0.548\\ 0.146\\ 0.630\\
0.515\\ 0.165\\ 0.639\\
0.386\\ 0.097\\ 0.492\\
0.438\\ 0.086\\ 0.463\\
0.393\\ 0.104\\ 0.604\\
0.477\\ 0.093\\ 0.513\\
0.389\\ 0.123\\ 0.475\\
0.382\\ 0.094\\ 0.501\\
}\tHc
\pgfplotstableread[row sep=\\]{v\\
0\\ 0\\ 0\\ 0\\ 0\\ 0\\ 0\\ 0\\ 0\\ 0\\ 0\\ 0\\
0\\ 0\\ 0\\ 0\\ 0\\ 0\\ 0\\ 0\\ 0\\ 0\\ 0\\ 0\\
0\\ 0\\ 0\\ 0\\ 0\\ 0\\ 0\\ 0\\ 0\\ 0\\ 0\\ 0\\
0\\ 0\\ 0\\ 0\\ 0\\ 0\\ 0\\ 0\\ 0\\ 0\\ 0\\ 0\\
0\\ 0\\ 0\\ 0\\ 0\\ 0\\ 0\\ 0\\ 0\\ 0\\ 0\\ 0\\
0\\ 0\\ 0\\ 0\\ 0\\ 0\\ 0\\ 0\\ 0\\ 0\\ 0\\ 0\\
}\zeros

\newcount\pcnt \newcount\tcnt \newcount\kcnt
% row r of a table: point p = r div 3, part t = r mod 3 (0 mean, 1 lower, 2 upper),
% featset k = p mod 12
\newcommand{\computeidx}{%
  \pcnt=\coordindex\relax \divide\pcnt by 3\relax
  \tcnt=\pcnt \multiply\tcnt by -3\relax \advance\tcnt by \coordindex\relax
  \kcnt=\pcnt \divide\kcnt by 12\relax \multiply\kcnt by -12\relax \advance\kcnt by \pcnt\relax}

\pgfplotsset{
  keepseg/.style={x filter/.code={\computeidx
      \ifnum\kcnt=#1\relax
        \ifnum\tcnt=0\relax\def\pgfmathresult{inf}\fi
      \else\def\pgfmathresult{inf}\fi}},
  keepdot/.style={x filter/.code={\computeidx
      \ifnum\kcnt=#1\relax
        \ifnum\tcnt=0\relax\else\def\pgfmathresult{inf}\fi
      \else\def\pgfmathresult{inf}\fi}},
  panel/.style={
    scale only axis, width=423pt, height=78.2pt,
    xmin=-0.6, xmax=4.6, ymin=-0.037, ymax=0.789,
    xtick={0,1,2,3,4}, ytick={0,0.2,0.4,0.6},
    minor ytick={0.1,0.3,0.5,0.7},
    xticklabels={}, yticklabels={},
    grid=both,
    major grid style={color=gridgray, line width=1.07pt},
    minor grid style={color=gridgray, line width=0.53pt},
    axis line style={color=grey20, line width=1.07pt},
    tick align=outside, major tick length=2.75pt, minor tick length=0pt,
    tick style={color=grey20, line width=1.07pt},
    xtick pos=bottom, ytick pos=left,
    xtick style={draw=none}, ytick style={draw=none},
    tick label style={font=\fontsize{8.8}{10}\selectfont, text=grey30},
  },
  leftcol/.style={yticklabels={0.0,0.2,0.4,0.6}, ytick style={draw=grey20}},
  bottomrow/.style={xticklabels={0.001,0.01,0.1,1,10}, xtick style={draw=grey20}},
}

% ranges as one jump-separated path per featset, then the points
\newcommand{\series}[2]{%
  \pgfplotsinvokeforeach{0,...,11}{%
    \addplot[no marks, color=fs##1, line width=1.15pt, unbounded coords=jump, keepseg=##1]
      table[x expr={#2+floor(\coordindex/36)+(##1-5.5)*0.05}, y=v] {#1};
    \addplot[only marks, mark=*, mark size=2.25pt, color=fs##1,
      mark options={solid, fill=fs##1, draw=fs##1, line width=0.3pt}, keepdot=##1]
      table[x expr={#2+floor(\coordindex/36)+(##1-5.5)*0.05}, y=v] {#1};
  }}
\newcommand{\dotsonly}[2]{%
  \pgfplotsinvokeforeach{0,...,11}{%
    \addplot[only marks, mark=*, mark size=2.25pt, color=fs##1,
      mark options={solid, fill=fs##1, draw=fs##1, line width=0.3pt}, keepdot=##1]
      table[x expr={#2+floor(\coordindex/36)+(##1-5.5)*0.05}, y=v] {#1};
  }}

\newcommand{\panel}[4]{%
  \begin{axis}[panel, at={({35.5pt+#1*429.1pt},{-22.44pt-#2*84pt})}, anchor=north west, #3]
  #4
  \end{axis}}

\begin{document}
\begin{tikzpicture}
\useasboundingbox (0,0) rectangle (1440pt,-720pt);

\panel{0}{0}{leftcol}{\series{\tAa}{0}}
\panel{0}{1}{leftcol}{\series{\tBa}{0}}
\panel{0}{2}{leftcol}{\series{\tCa}{0}}
\panel{0}{3}{leftcol}{\series{\tDa}{0}}
\panel{0}{4}{leftcol}{\series{\tEa}{0}}
\panel{0}{5}{leftcol}{\series{\tFa}{0}}
\panel{0}{6}{leftcol}{\series{\tGa}{0}}
\panel{0}{7}{leftcol,bottomrow}{\series{\tHa}{0}}

\panel{1}{0}{}{\series{\tAb}{0}\dotsonly{\zeros}{3}}
\panel{1}{1}{}{\series{\tBb}{0}\dotsonly{\zeros}{3}}
\panel{1}{2}{}{\series{\tCb}{0}\dotsonly{\zeros}{3}}
\panel{1}{3}{}{\series{\tDb}{0}\dotsonly{\zeros}{3}}
\panel{1}{4}{}{\series{\tEb}{0}\dotsonly{\zeros}{3}}
\panel{1}{5}{}{\series{\tFb}{0}\dotsonly{\zeros}{3}}
\panel{1}{6}{}{\series{\tGb}{0}\dotsonly{\zeros}{3}}
\panel{1}{7}{bottomrow}{\series{\tHb}{0}\dotsonly{\zeros}{3}}

\panel{2}{0}{}{\series{\tAc}{0}\dotsonly{\zeros}{3}}
\panel{2}{1}{}{\series{\tBc}{0}\dotsonly{\zeros}{3}}
\panel{2}{2}{}{\series{\tCc}{0}\dotsonly{\zeros}{3}}
\panel{2}{3}{}{\series{\tDc}{0}\dotsonly{\zeros}{3}}
\panel{2}{4}{}{\series{\tEc}{0}\dotsonly{\zeros}{3}}
\panel{2}{5}{}{\series{\tFc}{0}\dotsonly{\zeros}{3}}
\panel{2}{6}{}{\series{\tGc}{0}\dotsonly{\zeros}{3}}
\panel{2}{7}{bottomrow}{\series{\tHc}{0}\dotsonly{\zeros}{3}}

% facet strips
\foreach \c/\lab in {0/0, 1/0.5, 2/1} {
  \draw[fill=stripgray, draw=grey20, line width=1.07pt]
    ({35.5pt+\c*429.1pt},-5.5pt) rectangle ({35.5pt+\c*429.1pt+423pt},-22.44pt);
  \node[font=\fontsize{8.8}{10}\selectfont, text=grey10]
    at ({35.5pt+\c*429.1pt+211.5pt},-13.97pt) {\lab};
}
\foreach \r/\lab in {0/HA, 1/M1, 2/NP, 3/NS1, 4/PA, 5/PB1, 6/PB2, 7/NA} {
  \draw[fill=stripgray, draw=grey20, line width=1.07pt]
    (1316.8pt,{-22.44pt-\r*84pt}) rectangle (1333.4pt,{-22.44pt-\r*84pt-78.2pt});
  \node[font=\fontsize{8.8}{10}\selectfont, text=grey10, rotate=-90]
    at (1325.1pt,{-22.44pt-\r*84pt-39.1pt}) {\lab};
}

% axis titles
\node[font=\fontsize{11}{13}\selectfont, rotate=90] at (9.5pt,-355.5pt) {Kappa};
\node[font=\fontsize{11}{13}\selectfont] at (676.2pt,-708.3pt) {Params};

% legend
\node[font=\fontsize{11}{13}\selectfont, anchor=base west, inner sep=0pt] at (1350pt,-251.3pt) {featset};
\begin{axis}[hide axis, scale only axis, width=20pt, height=20pt,
  xmin=0, xmax=1, ymin=0, ymax=1,
  at={(1351.7pt,-259.1pt)}, anchor=north west,
  legend style={at={(0,1)}, anchor=north west, draw=none, fill=none,
    inner sep=0pt, outer sep=0pt, row sep=0pt,
    font=\fontsize{8.8}{10}\selectfont,
    nodes={inner sep=0pt, minimum height=17.36pt, text height=6.4pt, text depth=1.9pt, text=black},
    /tikz/every even column/.append style={column sep=7.4pt}},
  legend cell align=left,
  legend image code/.code={%
    \draw[line width=1.07pt] (-6.95pt,0pt) -- (6.95pt,0pt);
    \fill (0pt,0pt) circle (2.25pt);}]
\pgfplotsinvokeforeach{0,...,11}{\addlegendimage{color=fs#1, fill=fs#1}}
\legend{cds\_compbias, nuc\_2mer, nuc\_3mer, nuc\_4mer, nuc\_5mer, nuc\_6mer,
  prot\_2mer, prot\_ctdc, prot\_ctdd, prot\_ctdt, prot\_ctriad, prot\_pseaac}
\end{axis}
\end{tikzpicture}
\end{document}
